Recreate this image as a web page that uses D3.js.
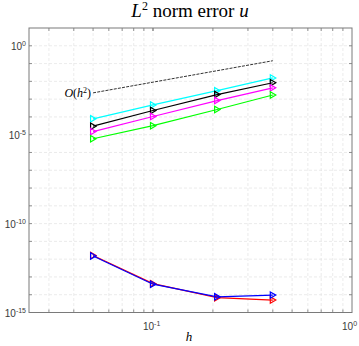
<!DOCTYPE html>
<html><head><meta charset="utf-8">
<script src="https://cdn.jsdelivr.net/npm/d3@7"></script>
<style>html,body{margin:0;padding:0;background:#fff;}svg{display:block;}</style>
</head><body>
<script>
// ---- data ----
const hValues = [0.05, 0.1, 0.21, 0.4];
const cyanErr    = [7.8e-5, 4.7e-4, 3.0e-3, 1.55e-2];
const blackErr   = [3.0e-5, 2.3e-4, 1.8e-3, 8.3e-3];
const magentaErr = [1.5e-5, 1.05e-4, 8.3e-4, 4.3e-3];
const greenErr   = [5.9e-6, 3.2e-5, 2.6e-4, 1.7e-3];
const redErr     = [1.6e-12, 4.2e-14, 6.8e-15, 5.0e-15];
const blueErr    = [1.5e-12, 3.9e-14, 7.6e-15, 9.5e-15];
const refH   = [0.05, 0.4];
const refErr = [2.25e-3, 0.144];
const xTickValues = [0.1, 1];
const xTickExps = ["-1", "0"];
const yTickValues = [1, 1e-5, 1e-10, 1e-15];
const yTickExps = ["0", "-5", "-10", "-15"];

const series = [
  {vals: cyanErr, color: "#00ffff"},
  {vals: blackErr, color: "#000000"},
  {vals: magentaErr, color: "#ff00ff"},
  {vals: greenErr, color: "#00ff00"},
  {vals: redErr, color: "#ff0000"},
  {vals: blueErr, color: "#0000ff"}
];

const W = 359, H = 346;
const L = 29, R = 352, T = 28, B = 312.5;
const svg = d3.select("body").append("svg").attr("width", W).attr("height", H);

const x = d3.scaleLog().domain([Math.pow(10, -1.623), 1]).range([L, R]);
const y = d3.scaleLog().domain([1e-15, 10]).range([B, T]);

// grid
const xMinor = [];
for (let e = -2; e <= 0; e++) for (let m = 1; m <= 9; m++) {
  const v = m * Math.pow(10, e);
  if (v > x.domain()[0] && v < 1) xMinor.push(v);
}
const yMinor = [];
for (let e = -14; e <= 0; e++) yMinor.push(Math.pow(10, e));

const g = svg.append("g");
g.selectAll("line.gx").data(xMinor).join("line")
  .attr("x1", d => x(d)).attr("x2", d => x(d)).attr("y1", T).attr("y2", B)
  .attr("stroke", "#e2e2e2").attr("stroke-width", 0.7).attr("stroke-dasharray", "3,2");
g.selectAll("line.gy").data(yMinor).join("line")
  .attr("y1", d => y(d)).attr("y2", d => y(d)).attr("x1", L).attr("x2", R)
  .attr("stroke", "#e2e2e2").attr("stroke-width", 0.7).attr("stroke-dasharray", "3,2");

// axes box
const axisColor = "#7a7a7a";
svg.append("rect").attr("x", L).attr("y", T).attr("width", R - L).attr("height", B - T)
  .attr("fill", "none").attr("stroke", axisColor).attr("stroke-width", 1);

// ticks (inside)
const xt = xMinor.concat([0.1]);
svg.selectAll("line.tb").data(xt).join("line")
  .attr("x1", d => x(d)).attr("x2", d => x(d)).attr("y1", B).attr("y2", B - 3)
  .attr("stroke", axisColor).attr("stroke-width", 0.8);
svg.selectAll("line.tt").data(xt).join("line")
  .attr("x1", d => x(d)).attr("x2", d => x(d)).attr("y1", T).attr("y2", T + 3)
  .attr("stroke", axisColor).attr("stroke-width", 0.8);
svg.selectAll("line.tl").data(yMinor).join("line")
  .attr("y1", d => y(d)).attr("y2", d => y(d)).attr("x1", L).attr("x2", L + 3)
  .attr("stroke", axisColor).attr("stroke-width", 0.8);
svg.selectAll("line.tr").data(yMinor).join("line")
  .attr("y1", d => y(d)).attr("y2", d => y(d)).attr("x1", R).attr("x2", R - 3)
  .attr("stroke", axisColor).attr("stroke-width", 0.8);

// tick labels
const labColor = "#3a3a3a";
yTickValues.forEach((v, i) => {
  const t = svg.append("text").attr("x", L - 3).attr("y", y(v) + 4)
    .attr("text-anchor", "end").attr("font-family", "Liberation Sans, Arial, sans-serif")
    .attr("font-size", 10).attr("fill", labColor);
  t.append("tspan").text("10");
  t.append("tspan").attr("dy", -4).attr("font-size", 7).text(yTickExps[i]);
});
xTickValues.forEach((v, i) => {
  const t = svg.append("text").attr("x", x(v) - 10).attr("y", B + 17)
    .attr("text-anchor", "start").attr("font-family", "Liberation Sans, Arial, sans-serif")
    .attr("font-size", 10).attr("fill", labColor);
  t.append("tspan").text("10");
  t.append("tspan").attr("dy", -4).attr("font-size", 7).text(xTickExps[i]);
});

// title
const title = svg.append("text").attr("x", 190).attr("y", 17).attr("text-anchor", "middle")
  .attr("font-family", "Liberation Serif, Times New Roman, serif").attr("font-size", 19).attr("fill", "#000");
title.append("tspan").attr("font-style", "italic").text("L");
title.append("tspan").attr("dy", -7).attr("font-size", 12).text("2");
title.append("tspan").attr("dy", 7).text(" norm error ");
title.append("tspan").attr("font-style", "italic").text("u");

// x label
svg.append("text").attr("x", 189).attr("y", 341).attr("text-anchor", "middle")
  .attr("font-family", "Liberation Serif, Times New Roman, serif").attr("font-style", "italic")
  .attr("font-size", 13).attr("fill", "#000").text("h");

// reference line
const line = d3.line().x(d => x(d[0])).y(d => y(d[1]));
svg.append("path").attr("d", line(refH.map((h, i) => [h, refErr[i]])))
  .attr("fill", "none").attr("stroke", "#333").attr("stroke-width", 1).attr("stroke-dasharray", "3,1.2");
const rl = svg.append("text").attr("x", x(refH[0]) - 2).attr("y", y(refErr[0]) + 4)
  .attr("text-anchor", "end").attr("font-family", "Liberation Serif, Times New Roman, serif")
  .attr("font-size", 12).attr("fill", "#000");
rl.append("tspan").attr("font-style", "italic").text("O");
rl.append("tspan").text("(");
rl.append("tspan").attr("font-style", "italic").text("h");
rl.append("tspan").attr("dy", -4).attr("font-size", 8).text("2");
rl.append("tspan").attr("dy", 4).text(")");

// series
const tri = "M-2.5,-3.2 L3,0 L-2.5,3.2 Z";
series.forEach(s => {
  const pts = hValues.map((h, i) => [h, s.vals[i]]);
  svg.append("path").attr("d", line(pts)).attr("fill", "none")
    .attr("stroke", s.color).attr("stroke-width", 1.2);
  svg.append("g").selectAll("path").data(pts).join("path")
    .attr("transform", d => `translate(${x(d[0])},${y(d[1])})`)
    .attr("d", tri).attr("fill", "none").attr("stroke", s.color).attr("stroke-width", 1.2);
});
</script>
</body></html>
